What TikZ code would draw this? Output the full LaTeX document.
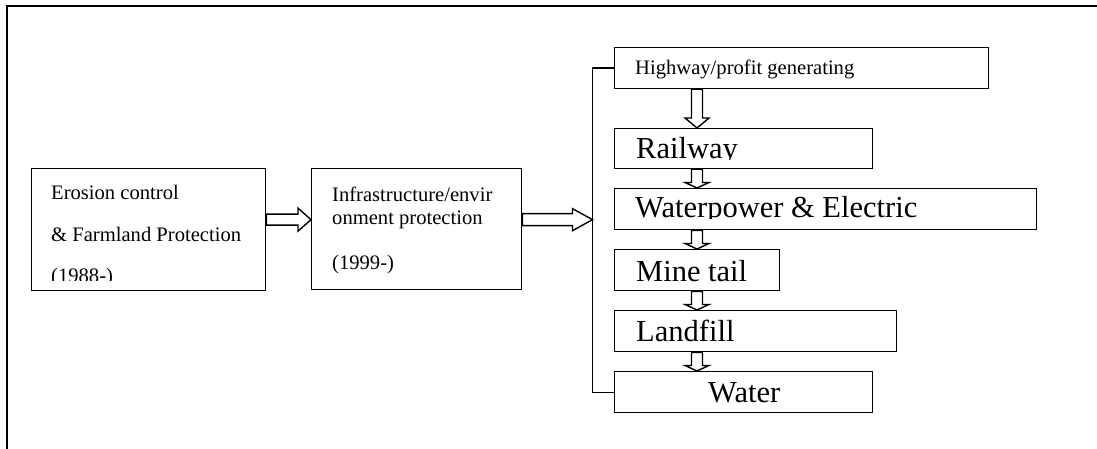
\documentclass[tikz,border=0pt]{standalone}
\usepackage{fontspec}
\setmainfont{Liberation Serif}
\usetikzlibrary{calc}

\tikzset{
  box/.style={draw, line width=1.3pt, inner sep=0pt, anchor=north west},
  hollow/.style={draw, line width=1.4pt, fill=white, line join=miter},
  frame/.style={line width=2pt},
  bus/.style={line width=1.3pt},
  small/.style={anchor=base west, inner sep=0pt, font=\fontsize{20.6}{24}\selectfont},
  big/.style={anchor=base west, inner sep=0pt, font=\fontsize{30.5}{36}\selectfont},
}

% hollow block arrow pointing right: #1 start point, #2 end point,
% #3 head length, #4 shaft half width, #5 head half width
\newcommand\hollowright[5]{%
  \draw[hollow] let \p1=#1, \p2=#2 in
    (\x1,\y1+#4) -- (\x2-#3,\y1+#4) -- (\x2-#3,\y1+#5) -- (\x2,\y1)
    -- (\x2-#3,\y1-#5) -- (\x2-#3,\y1-#4) -- (\x1,\y1-#4) -- cycle;}

% hollow block arrow pointing down between two stacked boxes:
% #1 upper node, #2 lower node, #3 head length
\newcommand\hollowdown[3]{%
  \draw[hollow] let \p1=($(#1.south west)+(83pt,0)$), \p2=($(#2.north west)+(83pt,0)$) in
    (\x1-5.5pt,\y1) -- (\x1+5.5pt,\y1) -- (\x1+5.5pt,\y2+#3) -- (\x1+12pt,\y2+#3)
    -- (\x1,\y2) -- (\x1-12pt,\y2+#3) -- (\x1-5.5pt,\y2+#3) -- cycle;}

\begin{document}
\begin{tikzpicture}[x=1pt,y=-1pt]
\useasboundingbox (0,0) rectangle (1097,449);

% page frame (top and left sides)
\draw[frame] (1097,6) -- (7,6) -- (7,449);

% boxes
\node[box, minimum width=234pt, minimum height=122pt] (b1) at (31,168) {};
\node[box, minimum width=210pt, minimum height=121pt] (b2) at (311,168) {};
\node[box, minimum width=374pt, minimum height=41pt] (h) at (614,47) {};
\node[box, minimum width=258pt, minimum height=40pt] (r) at (614,128) {};
\node[box, minimum width=422pt, minimum height=41pt] (w) at (614,188) {};
\node[box, minimum width=165pt, minimum height=41pt] (m) at (614,249) {};
\node[box, minimum width=282pt, minimum height=41pt] (l) at (614,310) {};
\node[box, minimum width=258pt, minimum height=41pt] (wa) at (614,371) {};

% box texts (text boxes cut off at their inner margin)
\begin{scope}
  \clip (b1.north west) rectangle ($(b1.south east)+(0,11pt)$);
  \node[small] (t1a) at (51,200) {Erosion control};
  \node[small] (t1b) at (51,241) {\& Farmland Protection};
  \node[small] (t1c) at (51,282) {(1988-)};
\end{scope}
\node[small] (t2a) at (332,201) {Infrastructure/envir};
\node[small] (t2b) at (332,224) {onment protection};
\node[small] (t2c) at (332,269) {(1999-)};
\node[small] (th) at (635,75) {Highway/profit generating};
\begin{scope}
  \clip (r.north west) rectangle ($(r.south east)+(0,10pt)$);
  \node[big] (tr) at (636,158.5) {Railway};
\end{scope}
\begin{scope}
  \clip (w.north west) rectangle ($(w.south east)+(0,11.5pt)$);
  \node[big] (tw) at (635,217) {Waterpower \& Electric};
\end{scope}
\node[big] (tm) at (636,281) {Mine tail};
\node[big] (tl) at (636,341) {Landfill};
\node[big] (twa) at (708,402) {Water};

% bracket joining the stacked boxes
\coordinate (hook) at ($(h.west)+(-21.5pt,0)$);
\draw[bus] (h.west) -- (hook) |- (wa.west);

% horizontal arrows
\hollowright{($(b1.east)+(0,10pt)$)}{(b2.west)}{13pt}{5.5pt}{11.5pt}
\hollowright{($(b2.east)+(0,9.5pt)$)}{(hook |- b2.east)}{20pt}{6pt}{11pt}

% vertical arrows
\hollowdown{h}{r}{10pt}
\hollowdown{r}{w}{5.5pt}
\hollowdown{w}{m}{5.5pt}
\hollowdown{m}{l}{5.5pt}
\hollowdown{l}{wa}{5.5pt}
\end{tikzpicture}
\end{document}
